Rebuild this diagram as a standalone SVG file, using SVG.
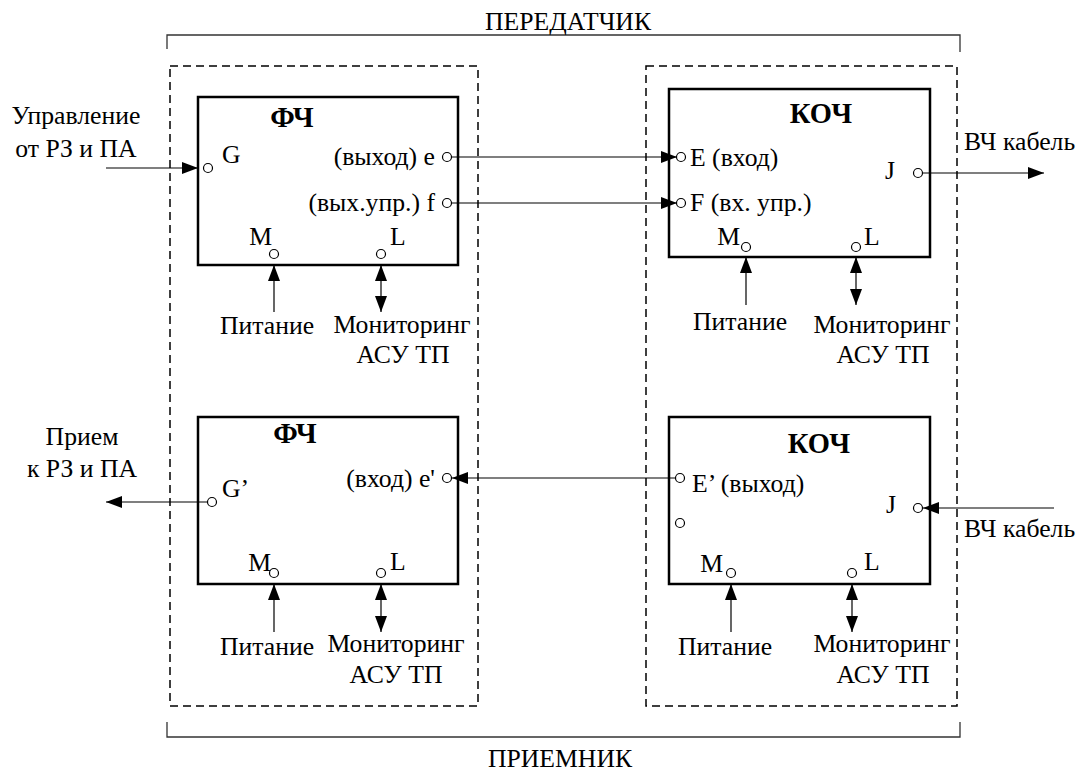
<svg xmlns="http://www.w3.org/2000/svg" width="1080" height="773" viewBox="0 0 1080 773" font-family="'Liberation Serif', 'Times New Roman', serif">
<style>
text{font-size:25.7px;fill:#000}
.t{font-weight:bold;font-size:28.5px;text-anchor:middle}
.m{text-anchor:middle}
.e{text-anchor:end}
.box{fill:none;stroke:#000;stroke-width:2.5}
.dash{fill:none;stroke:#000;stroke-width:1.5;stroke-dasharray:8 5}
.br{fill:none;stroke:#333;stroke-width:1.3}
.port{fill:#fff;stroke:#000;stroke-width:1.2}
.ln{fill:none;stroke:#000;stroke-width:1.2}
.a{marker-end:url(#ah)}
.aa{marker-start:url(#ah);marker-end:url(#ah)}
</style>
<defs>
<marker id="ah" markerUnits="userSpaceOnUse" markerWidth="16" markerHeight="12" refX="16" refY="6" orient="auto-start-reverse" viewBox="0 0 16 12">
<path d="M0,0 L16,6 L0,12 z" fill="#000"/>
</marker>
</defs>
<rect width="1080" height="773" fill="#fff"/>
<g id="brackets">
<path class="br" d="M167,49 V35 H960 V52"/>
<text class="m" x="568" y="30">ПЕРЕДАТЧИК</text>
<path class="br" d="M167,722 V737 H960 V722"/>
<text class="m" x="560" y="767">ПРИЕМНИК</text>
</g>
<g id="groups">
<rect class="dash" x="170" y="66" width="308" height="640"/>
<rect class="dash" x="646" y="66" width="311" height="640"/>
</g>
<g id="connectors">
<line class="ln a" x1="106" y1="168" x2="198" y2="168"/>
<line class="ln a" x1="208" y1="502" x2="106" y2="502"/>
<line class="ln a" x1="451" y1="157" x2="677" y2="157"/>
<line class="ln a" x1="451" y1="203" x2="677" y2="203"/>
<line class="ln a" x1="676" y1="478" x2="452" y2="478"/>
<line class="ln a" x1="922" y1="173" x2="1044" y2="173"/>
<line class="ln a" x1="1054" y1="508" x2="923" y2="508"/>
<line class="ln a" x1="274" y1="312" x2="274" y2="265"/>
<line class="ln aa" x1="381" y1="265" x2="381" y2="312"/>
<line class="ln a" x1="746" y1="305" x2="746" y2="257"/>
<line class="ln aa" x1="856" y1="257" x2="856" y2="305"/>
<line class="ln a" x1="274" y1="632" x2="274" y2="584"/>
<line class="ln aa" x1="381" y1="584" x2="381" y2="632"/>
<line class="ln a" x1="731" y1="632" x2="731" y2="584"/>
<line class="ln aa" x1="852" y1="584" x2="852" y2="632"/>
</g>
<g id="ext-labels">
<text class="m" x="76" y="124">Управление</text>
<text class="m" x="76" y="157">от РЗ и ПА</text>
<text class="m" x="82" y="445">Прием</text>
<text class="m" x="82" y="477">к РЗ и ПА</text>
<text x="964" y="150">ВЧ кабель</text>
<text x="964" y="537">ВЧ кабель</text>
<text class="m" x="267" y="334">Питание</text>
<text class="m" x="402" y="333">Мониторинг</text>
<text class="m" x="403" y="363">АСУ ТП</text>
<text class="m" x="740" y="330">Питание</text>
<text class="m" x="882" y="333">Мониторинг</text>
<text class="m" x="883" y="363">АСУ ТП</text>
<text class="m" x="267" y="655">Питание</text>
<text class="m" x="396" y="652">Мониторинг</text>
<text class="m" x="396" y="683">АСУ ТП</text>
<text class="m" x="725" y="655">Питание</text>
<text class="m" x="882" y="652">Мониторинг</text>
<text class="m" x="883" y="683">АСУ ТП</text>
</g>
<g id="fch1">
<rect class="box" x="198" y="97" width="260" height="168"/>
<text class="t" x="292" y="127">ФЧ</text>
<circle class="port" cx="208" cy="168" r="4.5"/>
<text x="222" y="163">G</text>
<circle class="port" cx="447" cy="157" r="4.5"/>
<text class="e" x="435" y="165">(выход) e</text>
<circle class="port" cx="447" cy="203" r="4.5"/>
<text class="e" x="435" y="211">(вых.упр.) f</text>
<circle class="port" cx="274" cy="254" r="4.5"/>
<text class="e" x="272" y="245">M</text>
<circle class="port" cx="381" cy="254" r="4.5"/>
<text x="390" y="245">L</text>
</g>
<g id="fch2">
<rect class="box" x="198" y="417" width="260" height="167"/>
<text class="t" x="295" y="443">ФЧ</text>
<circle class="port" cx="447" cy="478" r="4.5"/>
<text class="e" x="435" y="487">(вход) e'</text>
<circle class="port" cx="212" cy="502" r="4.5"/>
<text x="222" y="497">G’</text>
<circle class="port" cx="274" cy="573" r="4.5"/>
<text class="e" x="271" y="571">M</text>
<circle class="port" cx="381" cy="573" r="4.5"/>
<text x="390" y="570">L</text>
</g>
<g id="koch1">
<rect class="box" x="669" y="89" width="261" height="168"/>
<text class="t" x="821" y="123">КОЧ</text>
<circle class="port" cx="681" cy="157" r="4.5"/>
<text x="690" y="166">E (вход)</text>
<circle class="port" cx="681" cy="203" r="4.5"/>
<text x="690" y="211">F (вх. упр.)</text>
<circle class="port" cx="918" cy="173" r="4.5"/>
<text x="885" y="179">J</text>
<circle class="port" cx="746" cy="247" r="4.5"/>
<text class="e" x="740" y="245">M</text>
<circle class="port" cx="856" cy="247" r="4.5"/>
<text x="864" y="245">L</text>
</g>
<g id="koch2">
<rect class="box" x="669" y="417" width="261" height="167"/>
<text class="t" x="819" y="453">КОЧ</text>
<circle class="port" cx="680" cy="478" r="4.5"/>
<text x="692" y="492">E’ (выход)</text>
<circle class="port" cx="680" cy="523" r="4.5"/>
<circle class="port" cx="918" cy="508" r="4.5"/>
<text x="886" y="513">J</text>
<circle class="port" cx="731" cy="573" r="4.5"/>
<text class="e" x="723" y="572">M</text>
<circle class="port" cx="852" cy="573" r="4.5"/>
<text x="864" y="570">L</text>
</g>
</svg>
